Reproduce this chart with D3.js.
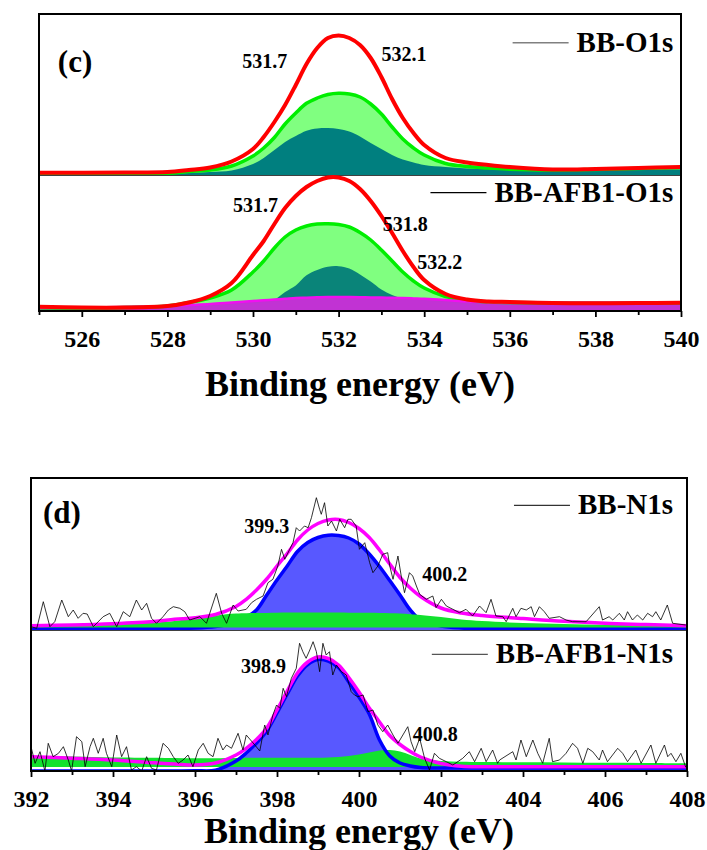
<!DOCTYPE html>
<html>
<head>
<meta charset="utf-8">
<script src="https://cdn.jsdelivr.net/npm/d3@7/dist/d3.min.js"></script>
<style>
  body { margin: 0; background: #fff; }
  text { font-family: "Liberation Serif", "Times New Roman", serif; font-weight: bold; fill: #000; }
</style>
</head>
<body>
<div id="chart"></div>
<script>
// ---------- data (intensities in a.u.) ----------

// O1s fitted curves, shared energy grid (eV)
const o1sE = [525,526,527,528,528.5,529,529.5,530,530.25,530.5,530.75,531,531.25,531.5,531.75,532,532.25,532.5,532.75,533,533.25,533.5,533.75,534,534.5,535,535.5,536,537,538,539,540];
// BB-O1s
const bbO1sEnv = [2.3,2.3,2.5,3,5,7.5,13.5,26,38,53,70,90,111,127,137,139.5,137,130,117,98,76,57,42,30,17,12.5,10,8,5.5,6,7,8];
const bbO1sP2  = [1,1,1.2,1.7,3.5,5,9,19,27,37.5,51,62,71.7,77,80.5,81.7,81,78,71,61,48,36,27,20,11.5,8.5,7,5.7,5,5.5,6.5,7.5];
const bbO1sP1  = [0.5,0.5,0.7,1.2,2,3,4.5,11,17,25,33,39,44.3,46.5,47,46,43.5,38.5,32,26,20,15.5,12.5,10,8,6.5,6,5.5,5,5,5.2,5.5];
// BB-AFB1-O1s
const afbO1sEnv = [4.3,3.5,3.5,5,8.5,15,28,56,70,87,103,115,124,130,133.5,133.5,130,122,110,95,78,60,44,31,17,11.5,9.5,9,8,7.8,8,8.3];
const afbO1sP1  = [3,3,3.5,5,8.5,13,21,39,50,63,74,81,85,87,87.3,86.5,84,78.5,71,61,50,39,30,23,14.5,10.5,9,8.5,8,7.8,8,8.3];
const afbO1sP2  = [2,2,3,4,5,6,7,8.5,9.5,11.5,19,25.5,35.7,41,44.3,44.8,42.5,36.5,29.5,21.5,16,12.5,11,10,9,8,7.5,7,6,5.5,5.5,5.5];
const afbO1sP3  = [3,3.5,4,5,6,7,8.5,10,10.7,11.5,12.2,13,13.3,13.7,14,14,14,13.8,13.6,13.4,13.2,13,12.6,12.2,11,9.5,8.8,8.5,8.3,8.2,8.2,8.3];

// N1s fitted curves, shared energy grid (eV)
const n1sE = [392,393,394,395,395.5,396,396.5,397,397.25,397.5,397.75,398,398.25,398.5,398.75,399,399.25,399.5,399.75,400,400.25,400.5,400.75,401,401.25,401.5,402,402.5,403,404,405,406,407,408];
// BB-N1s
const bbN1sEnv = [4.3,5,6.3,8.5,10.7,12.2,15.5,23.5,30.7,40,51,64,76.5,90,100,106.5,110,110.5,107.5,101.5,92.5,80,66,52.5,42,33.5,22,17,14.5,11.5,8.7,6.7,5.5,4.3];
const bbN1sP1  = [1.5,1.5,1.5,1.5,1.7,2,3.5,7.5,12.5,20,35,50,64,78.5,87.5,92.5,94.8,94.5,92,86,76,63.5,49.5,35,20,10,4,2,1.5,1.5,1.5,1.5,1.5,1.5];
const bbN1sP2  = [3.5,4.5,5.5,7.5,9,12,14.5,16.5,16.8,17,17.1,17.3,17.4,17.4,17.5,17.5,17.5,17.4,17.3,17.3,17.2,17,16.8,16.5,15.8,15,13,10.5,9,7,6,5.3,4.8,4.3];
// BB-AFB1-N1s
const afbN1sEnv = [14.3,12.8,11,8.2,7,6,8,16,22.7,31.5,43,61,80,98,109,114,112.5,106,93.5,79,63,49,35.5,26.5,19.5,14,7.5,4.8,4.3,4.3,4.3,4.3,4.3,4.3];
const afbN1sP1  = [0,0,0,0,0,0.3,0.8,10,18,28,40,58,77,95,106.5,111.5,110,103.5,89,74,57,31,15,8,5,3.5,3,3,3,3,3,3,3,3];
const afbN1sP2  = [15,14.5,13.5,13.3,13,12.7,12.8,13,13.2,13.3,13.3,13.3,13.3,13.3,13.3,13.3,13.5,14,15,16.5,18.5,20.5,21,19.5,16,12.5,10,9.3,9,8.7,8.5,8.2,8,7.7];
const n1sGreenBase = [2.5, 4];

// N1s raw spectra
const bbN1sRawE = [392.00,392.14,392.30,392.46,392.58,392.75,392.91,393.03,393.15,393.27,393.37,393.52,393.76,393.92,394.09,394.25,394.41,394.57,394.70,394.82,394.94,395.06,395.22,395.35,395.47,395.63,395.75,395.87,396.12,396.28,396.52,396.65,396.77,396.93,397.05,397.25,397.38,397.50,397.66,397.78,397.90,398.02,398.11,398.19,398.31,398.39,398.47,398.55,398.67,398.76,398.84,398.96,399.04,399.08,399.16,399.24,399.33,399.45,399.53,399.65,399.73,399.81,399.93,400.01,400.14,400.26,400.34,400.46,400.58,400.70,400.75,400.83,400.95,401.03,401.11,401.23,401.31,401.40,401.48,401.64,401.80,401.88,402.01,402.13,402.29,402.45,402.61,402.77,402.94,403.10,403.22,403.34,403.51,403.59,403.75,403.83,403.95,404.08,404.20,404.28,404.40,404.52,404.64,404.89,405.05,405.21,405.54,405.86,405.94,406.10,406.19,406.35,406.47,406.55,406.67,406.79,406.92,407.04,407.16,407.24,407.36,407.52,407.65,407.97];
const bbN1sRaw  = [3.3,1.7,28.3,3.3,8.3,30,13.3,20,11.7,16.7,16,3.3,13.3,16.7,3.3,18.3,13.3,30,20,26.7,11.7,6.7,13.3,20,23.3,21.7,18.3,10,13.3,6.7,36.7,16.7,6.7,25,19,20.7,27.3,30.7,34,47.3,50.7,64,80.7,70.7,80.7,87.3,102.3,99,104,102.3,112.3,132.3,120.7,115.7,127.3,104,109,99,110.7,102.3,110.7,110.7,104,80.7,87.3,67.3,57.3,64,75.7,77.3,64,50.7,74,54,37.3,57.3,54,44,35.7,30.7,34,22.3,30.7,24,20.7,17.3,20.7,14,24,17.3,30.7,14,13.3,8.3,21.7,13.3,21.7,20,23.3,13.3,23.3,18.3,11.7,13.3,10,8.3,8.3,23.3,10,13.3,10,16.7,10,18.3,10,15,10,16.7,13.3,18.3,10,25,6.7,5];
const afbN1sRawE = [392.00,392.10,392.22,392.34,392.42,392.54,392.67,392.79,392.91,392.99,393.11,393.24,393.32,393.44,393.52,393.64,393.76,393.84,393.97,394.09,394.21,394.33,394.45,394.57,394.70,394.82,394.94,395.06,395.22,395.35,395.47,395.59,395.71,395.83,395.95,396.08,396.20,396.32,396.44,396.56,396.68,396.77,396.89,397.05,397.17,397.25,397.46,397.58,397.70,397.78,397.90,397.99,398.07,398.15,398.23,398.35,398.47,398.55,398.63,398.71,398.80,398.88,398.96,399.04,399.12,399.20,399.28,399.36,399.45,399.57,399.69,399.81,399.89,399.97,400.10,400.22,400.34,400.46,400.58,400.70,400.83,400.95,401.07,401.19,401.27,401.36,401.48,401.60,401.72,401.84,401.96,402.13,402.29,402.53,402.69,402.82,402.98,403.10,403.26,403.38,403.43,403.75,403.83,403.95,404.08,404.24,404.36,404.48,404.64,404.72,404.89,405.05,405.21,405.33,405.46,405.58,405.70,405.86,405.94,406.06,406.31,406.43,406.55,406.75,406.88,407.12,407.24,407.45,407.53,407.61,407.73,407.85,407.97];
const afbN1sRaw  = [24.3,7.7,19.3,0,27.7,14.3,17.7,24.3,11,0,34.3,29.3,4.3,24.3,32.7,17.7,32.7,17.7,4.3,36,14.3,24.3,1,4.3,0,14.3,2.7,1,27.7,22.7,14.3,7.7,11,16,4.3,21,27.7,17.7,14.3,32.7,21,26,22.7,37.7,21,36,26,20,46,36,56,66,62.7,82.7,74.3,92.7,102.7,127.7,119.3,112.7,121,129.3,119.3,99.3,127.7,116,119.3,96,106,99.3,96,79.3,76,74.3,76,59.3,61,46,39.3,46,36,27.7,36,44.3,29.3,19.3,32.7,12.7,1,17.7,12.7,9.3,6,12.7,19.3,9.3,22.7,9.3,21,7.7,11,19.3,11,31,14.3,31,17.7,7.7,32.7,9.3,11,17.7,27.7,22.7,7.7,22.7,19.3,11,21,9.3,22.7,17.7,9.3,21,7.7,26,7.7,26,14.3,17.7,9.3,17.7,3.7];

// axis ticks, names, peak labels
const o1sMajor = [526,528,530,532,534,536,538,540];
const o1sMinor = [525,527,529,531,533,535,537,539];
const n1sMajor = [392,394,396,398,400,402,404,406,408];
const n1sMinor = [393,395,397,399,401,403,405,407];
const seriesNames = ["BB-O1s", "BB-AFB1-O1s", "BB-N1s", "BB-AFB1-N1s"];
const bbO1sPeaks = ["531.7", "532.1"];
const afbO1sPeaks = ["531.7", "531.8", "532.2"];
const bbN1sPeaks = ["399.3", "400.2"];
const afbN1sPeaks = ["398.9", "400.8"];

// ---------- layout ----------
const w = 707, h = 850;
const frameC = {left: 39, right: 681, top: 14, mid: 175, bottom: 311, yMax: [161, 136]};
const frameD = {left: 31, right: 687, top: 478, mid: 630, bottom: 771, yMax: [152, 141]};
const smooth = d3.curveCatmullRom.alpha(0.5);

const svg = d3.select("#chart")
              .append("svg")
              .attr("width", w)
              .attr("height", h)
              .style("background-color", "#fff");

let clipCount = 0;
function subPanel(x, top, bottom, yMax) {
  const y = d3.scaleLinear().domain([0, yMax]).range([bottom, top]);
  const id = "clip" + (clipCount++);
  svg.append("clipPath").attr("id", id)
     .append("rect")
     .attr("x", x.range()[0]).attr("y", top)
     .attr("width", x.range()[1] - x.range()[0]).attr("height", bottom - top);
  const g = svg.append("g").attr("clip-path", `url(#${id})`);
  return {g, y};
}

function fill(p, x, E, vals, base, color) {
  p.g.append("path")
     .attr("d", d3.area().x((d, i) => x(E[i])).y0(p.y(base)).y1(d => p.y(d)).curve(smooth)(vals))
     .attr("fill", color);
}

function stroke(p, x, E, vals, color, width, curve) {
  p.g.append("path")
     .attr("d", d3.line().x((d, i) => x(E[i])).y(d => p.y(d)).curve(curve || smooth)(vals))
     .attr("fill", "none")
     .attr("stroke", color)
     .attr("stroke-width", width)
     .attr("stroke-linejoin", "round");
}

function label(p, x, e, i, txt, size) {
  svg.append("text").attr("x", x(e)).attr("y", p.y(i)).attr("font-size", size).text(txt);
}

function legend(p, x, e, i, name, color, width) {
  const t = svg.append("text")
               .attr("x", x(e)).attr("y", p.y(i))
               .attr("text-anchor", "end")
               .attr("font-size", 29)
               .text(name);
  const x2 = x(e) - t.node().getComputedTextLength() - 8;
  svg.append("line")
     .attr("x1", x2 - 56).attr("x2", x2)
     .attr("y1", p.y(i) - 9).attr("y2", p.y(i) - 9)
     .attr("stroke", color).attr("stroke-width", width);
}

function separator(f) {
  svg.append("line")
     .attr("x1", f.left).attr("x2", f.right).attr("y1", f.mid).attr("y2", f.mid)
     .attr("stroke", "#000").attr("stroke-width", 1.5);
}

function outline(f) {
  svg.append("rect")
     .attr("x", f.left).attr("y", f.top)
     .attr("width", f.right - f.left).attr("height", f.bottom - f.top)
     .attr("fill", "none").attr("stroke", "#000").attr("stroke-width", 2);
}

function bottomAxis(x, yPos, major, minor) {
  const minorG = svg.append("g")
                    .attr("transform", `translate(0, ${yPos})`)
                    .call(d3.axisBottom(x).tickValues(minor).tickSize(4).tickFormat(""));
  minorG.select(".domain").remove();
  minorG.selectAll("line").attr("stroke-width", 1.8);
  const majorG = svg.append("g")
                    .attr("transform", `translate(0, ${yPos})`)
                    .call(d3.axisBottom(x).tickValues(major).tickSize(6).tickPadding(13).tickFormat(d3.format("d")));
  majorG.select(".domain").remove();
  majorG.selectAll("line").attr("stroke-width", 1.8);
  majorG.attr("font-size", 24);
  majorG.selectAll("text").attr("fill", "#000");
}

function axisTitle(xMid, yBase) {
  svg.append("text")
     .attr("x", xMid).attr("y", yBase)
     .attr("text-anchor", "middle")
     .attr("font-size", 36)
     .text("Binding energy (eV)");
}

// ---------- panel (c): O1s ----------
const xC = d3.scaleLinear().domain([525, 540]).range([frameC.left, frameC.right]);
separator(frameC);

const cTop = subPanel(xC, frameC.top, frameC.mid, frameC.yMax[0]);
fill(cTop, xC, o1sE, bbO1sP2, 0, "#80ff80");
fill(cTop, xC, o1sE, bbO1sP1, 0, "#007f7f");
stroke(cTop, xC, o1sE, bbO1sP2, "#00ee00", 3.5);
stroke(cTop, xC, o1sE, bbO1sEnv, "#ff0000", 4);

const cBot = subPanel(xC, frameC.mid, frameC.bottom, frameC.yMax[1]);
fill(cBot, xC, o1sE, afbO1sP1, 0, "#80ff80");
fill(cBot, xC, o1sE, afbO1sP2, 0, "#0a8479");
fill(cBot, xC, o1sE, afbO1sP3, 0, "#c133d3");
stroke(cBot, xC, o1sE, afbO1sP1, "#00ee00", 3.5);
stroke(cBot, xC, o1sE, afbO1sP3, "#f010f0", 2.5);
stroke(cBot, xC, o1sE, afbO1sEnv, "#ff0000", 4);

outline(frameC);
bottomAxis(xC, frameC.bottom, o1sMajor, o1sMinor);
axisTitle(360, 396);

label(cTop, xC, 525.44, 103, "(c)", 31);
label(cTop, xC, 529.75, 107.5, bbO1sPeaks[0], 20);
label(cTop, xC, 533.0, 114, bbO1sPeaks[1], 20);
label(cBot, xC, 529.53, 99, afbO1sPeaks[0], 20);
label(cBot, xC, 533.03, 79.7, afbO1sPeaks[1], 20);
label(cBot, xC, 533.84, 42.3, afbO1sPeaks[2], 20);
legend(cTop, xC, 539.82, 123.3, seriesNames[0], "#808080", 1.5);
legend(cBot, xC, 539.82, 109.3, seriesNames[1], "#000", 1.2);

// ---------- panel (d): N1s ----------
const xD = d3.scaleLinear().domain([392, 408]).range([frameD.left, frameD.right]);
separator(frameD);

const dTop = subPanel(xD, frameD.top, frameD.mid, frameD.yMax[0]);
fill(dTop, xD, n1sE, bbN1sP1, 0, "#5858ff");
stroke(dTop, xD, n1sE, bbN1sP1, "#0000ff", 3.5);
fill(dTop, xD, n1sE, bbN1sP2, n1sGreenBase[0], "#12e22e");
stroke(dTop, xD, n1sE, bbN1sEnv, "#ff00ff", 3.5);
stroke(dTop, xD, bbN1sRawE, bbN1sRaw, "#000", 0.8, d3.curveLinear);

const dBot = subPanel(xD, frameD.mid, frameD.bottom, frameD.yMax[1]);
fill(dBot, xD, n1sE, afbN1sP1, 0, "#5858ff");
fill(dBot, xD, n1sE, afbN1sP2, n1sGreenBase[1], "#12e22e");
stroke(dBot, xD, n1sE, afbN1sP1, "#0000ff", 3.5);
stroke(dBot, xD, n1sE, afbN1sEnv, "#ff00ff", 3.5);
stroke(dBot, xD, afbN1sRawE, afbN1sRaw, "#000", 0.8, d3.curveLinear);

outline(frameD);
bottomAxis(xD, frameD.bottom, n1sMajor, n1sMinor);
axisTitle(359, 843);

label(dTop, xD, 392.29, 107, "(d)", 31);
label(dTop, xD, 397.2, 97.3, bbN1sPeaks[0], 20);
label(dTop, xD, 401.54, 49, bbN1sPeaks[1], 20);
label(dBot, xD, 397.12, 97.7, afbN1sPeaks[0], 20);
label(dBot, xD, 401.31, 30, afbN1sPeaks[1], 20);
legend(dTop, xD, 407.66, 115.7, seriesNames[2], "#000", 1);
legend(dBot, xD, 407.66, 107.7, seriesNames[3], "#555", 1.2);
</script>
</body>
</html>
